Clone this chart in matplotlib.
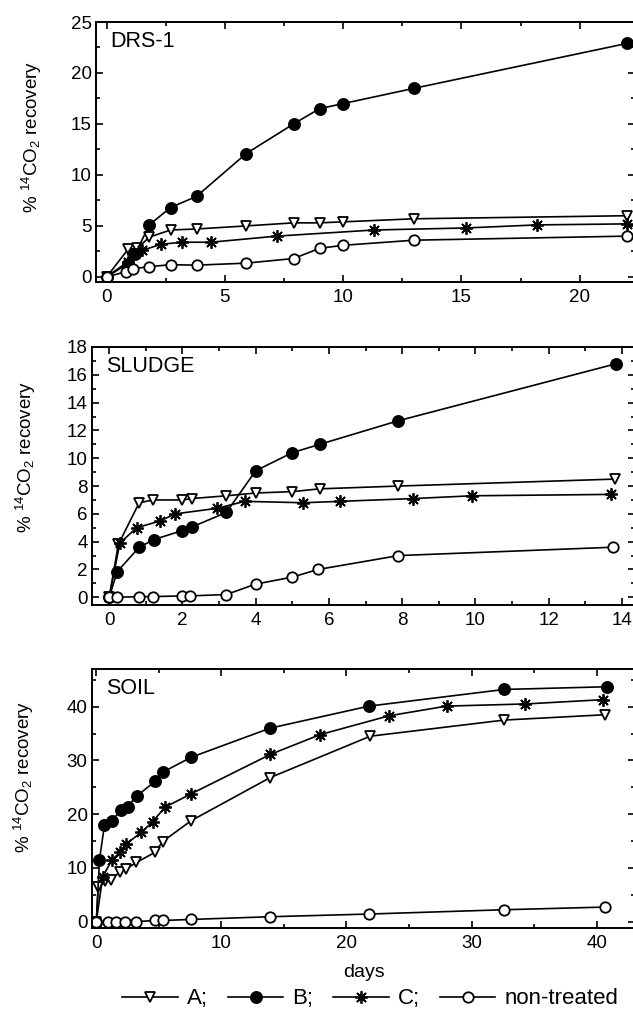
import matplotlib
matplotlib.use("Agg")
import matplotlib.pyplot as plt
from matplotlib.ticker import MultipleLocator
from matplotlib.lines import Line2D

plt.rcParams["font.family"] = ["Liberation Sans", "DejaVu Sans"]
plt.rcParams["mathtext.default"] = "regular"

# DRS-1
drs_a_days = [0, 0.9, 1.3, 1.8, 2.7, 3.8, 5.9, 7.9, 9.0, 10.0, 13.0, 22.0]
drs_a = [0, 2.7, 2.8, 3.9, 4.6, 4.7, 5.0, 5.3, 5.3, 5.4, 5.7, 6.0]
drs_b_days = [0, 0.9, 1.2, 1.8, 2.7, 3.8, 5.9, 7.9, 9.0, 10.0, 13.0, 22.0]
drs_b = [0, 1.3, 2.2, 5.1, 6.8, 7.9, 12.1, 15.0, 16.5, 17.0, 18.5, 22.9]
drs_c_days = [0, 0.9, 1.1, 1.5, 2.3, 3.2, 4.4, 7.2, 11.3, 15.2, 18.2, 22.0]
drs_c = [0, 1.5, 2.2, 2.6, 3.2, 3.4, 3.4, 4.0, 4.6, 4.8, 5.1, 5.2]
drs_nt_days = [0, 0.8, 1.1, 1.8, 2.7, 3.8, 5.9, 7.9, 9.0, 10.0, 13.0, 22.0]
drs_nt = [0, 0.5, 0.8, 1.0, 1.2, 1.15, 1.35, 1.8, 2.8, 3.1, 3.6, 4.0]

# SLUDGE
sludge_a_days = [0, 0.25, 0.82, 1.2, 2.0, 2.25, 3.2, 4.0, 5.0, 5.75, 7.9, 13.8]
sludge_a = [0, 3.8, 6.8, 7.0, 7.0, 7.1, 7.3, 7.5, 7.6, 7.8, 8.0, 8.5]
sludge_b_days = [0, 0.22, 0.82, 1.22, 2.0, 2.25, 3.2, 4.0, 5.0, 5.75, 7.9, 13.85]
sludge_b = [0, 1.85, 3.6, 4.15, 4.8, 5.05, 6.1, 9.1, 10.4, 11.0, 12.7, 16.8]
sludge_c_days = [0, 0.29, 0.75, 1.4, 1.8, 2.95, 3.7, 5.3, 6.3, 8.3, 9.9, 13.7]
sludge_c = [0, 3.9, 5.0, 5.5, 6.0, 6.4, 6.9, 6.8, 6.9, 7.1, 7.3, 7.4]
sludge_nt_days = [0, 0.2, 0.82, 1.2, 2.0, 2.2, 3.2, 4.0, 5.0, 5.7, 7.9, 13.75]
sludge_nt = [0, 0.0, 0.05, 0.05, 0.1, 0.1, 0.2, 0.95, 1.45, 2.0, 3.0, 3.6]

# SOIL
soil_a_days = [0, 0.15, 0.7, 1.2, 1.9, 2.4, 3.2, 4.7, 5.3, 7.6, 13.9, 21.9, 32.6, 40.7]
soil_a = [0, 6.5, 7.5, 7.8, 9.3, 9.8, 11.0, 12.9, 14.9, 18.8, 26.8, 34.5, 37.5, 38.5]
soil_b_days = [0, 0.25, 0.65, 1.25, 1.95, 2.5, 3.25, 4.7, 5.3, 7.6, 13.9, 21.8, 32.6, 40.8]
soil_b = [0, 11.5, 18.0, 18.8, 20.7, 21.4, 23.4, 26.1, 27.8, 30.6, 36.0, 40.1, 43.2, 43.7]
soil_c_days = [0, 0.5, 1.25, 1.9, 2.4, 3.6, 4.5, 5.5, 7.6, 13.9, 17.9, 23.4, 28.0, 34.3, 40.5]
soil_c = [0, 8.3, 11.5, 12.9, 14.5, 16.6, 18.6, 21.3, 23.8, 31.1, 34.8, 38.3, 40.1, 40.5, 41.3]
soil_nt_days = [0, 0.9, 1.6, 2.3, 3.2, 4.7, 5.3, 7.6, 13.9, 21.8, 32.6, 40.7]
soil_nt = [0, 0.0, 0.0, 0.0, 0.0, 0.2, 0.2, 0.4, 0.9, 1.4, 2.2, 2.7]

legend_labels = ["A;", "B;", "C;", "non-treated"]

STYLES = [
    dict(marker="v", mfc="white", ms=7.5),
    dict(marker="o", mfc="black", ms=8),
    dict(marker=(8, 2, 0), mfc="black", ms=9),
    dict(marker="o", mfc="white", ms=7.5),
]


def draw_panel(ax, series, name, xlim, ylim, xmaj, ymaj):
    for (days, vals), st in zip(series, STYLES):
        ax.plot(days, vals, color="black", lw=1.2, mec="black", mew=1.3, **st)
    ax.set_xlim(*xlim)
    ax.set_ylim(*ylim)
    ax.xaxis.set_major_locator(MultipleLocator(xmaj))
    ax.xaxis.set_minor_locator(MultipleLocator(xmaj / 2))
    ax.yaxis.set_major_locator(MultipleLocator(ymaj))
    ax.yaxis.set_minor_locator(MultipleLocator(ymaj / 2))
    ax.tick_params(which="both", direction="in", top=True, right=True,
                   labelsize=13.5, width=1.2)
    ax.tick_params(axis="x", pad=5)
    ax.tick_params(axis="y", pad=3)
    ax.tick_params(which="major", length=5)
    ax.tick_params(which="minor", length=3)
    for sp in ax.spines.values():
        sp.set_linewidth(1.4)
    ax.text(0.026, 0.925, name, transform=ax.transAxes, fontsize=15.5,
            ha="left", va="center")


fig = plt.figure(figsize=(6.33, 10.14), dpi=100)
ax1 = fig.add_axes([0.1517, 0.7219, 0.852, 0.2564])
ax2 = fig.add_axes([0.1453, 0.4034, 0.8585, 0.2544])
ax3 = fig.add_axes([0.1449, 0.0848, 0.8589, 0.2554])

draw_panel(ax1, [(drs_a_days, drs_a), (drs_b_days, drs_b),
                 (drs_c_days, drs_c), (drs_nt_days, drs_nt)],
           "DRS-1", (-0.45, 22.35), (-0.5, 25), 5, 5)
draw_panel(ax2, [(sludge_a_days, sludge_a), (sludge_b_days, sludge_b),
                 (sludge_c_days, sludge_c), (sludge_nt_days, sludge_nt)],
           "SLUDGE", (-0.47, 14.37), (-0.55, 18), 2, 2)
draw_panel(ax3, [(soil_a_days, soil_a), (soil_b_days, soil_b),
                 (soil_c_days, soil_c), (soil_nt_days, soil_nt)],
           "SOIL", (-0.37, 43.1), (-1.2, 47), 10, 10)

ax3.set_xlabel("days", fontsize=14, labelpad=9)

ylab = r"% $^{14}$CO$_2$ recovery"
for ax, yc, xc in [(ax1, 137, 32), (ax2, 457, 26), (ax3, 777, 24)]:
    fig.text(xc / 633, 1 - yc / 1014, ylab, rotation=90, fontsize=13.5,
             ha="center", va="center")

handles = [Line2D([], [], color="black", lw=1.2, mec="black", mew=1.3, **st)
           for st in STYLES]
fig.legend(handles, legend_labels, loc="center", bbox_to_anchor=(0.585, 0.015),
           ncol=4, frameon=False, fontsize=16, handlelength=2.5,
           handletextpad=0.4, columnspacing=0.9, borderpad=0)

fig.savefig("out.png", dpi=100)
